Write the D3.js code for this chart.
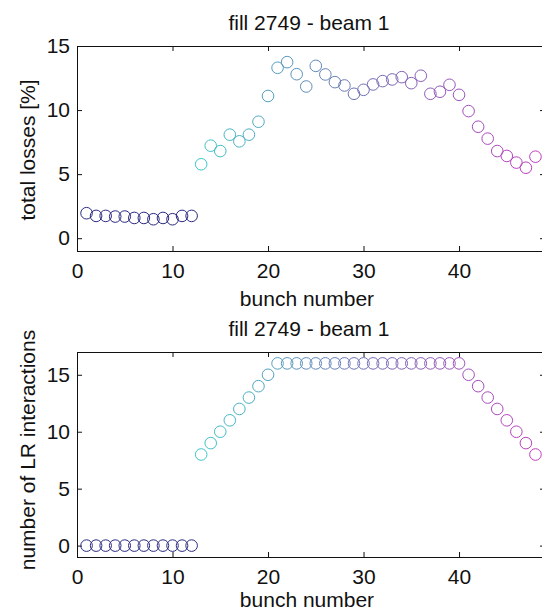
<!DOCTYPE html>
<html>
<head>
<meta charset="utf-8">
<script src="https://cdn.jsdelivr.net/npm/d3@7"></script>
<style>
	body { margin: 0; background: #fff; }
	svg { display: block; font-family: "Liberation Sans", Arial, sans-serif; }
	.axis text { font-size: 21px; fill: #111; }
	.axis path { display: none; }
	.axis line { stroke: #111; }
	.label { font-size: 21px; fill: #111; }
</style>
</head>
<body>
<div id="chart"></div>
<script>
//////////////////////////////
// DATA
//////////////////////////////

const bunch = [1,2,3,4,5,6,7,8,9,10,11,12,13,14,15,16,17,18,19,20,21,22,23,24,
	25,26,27,28,29,30,31,32,33,34,35,36,37,38,39,40,41,42,43,44,45,46,47,48]

const losses = [1.95,1.74,1.74,1.69,1.69,1.58,1.58,1.48,1.58,1.48,1.74,1.74,
	5.77,7.22,6.8,8.08,7.56,8.08,9.09,11.1,13.3,13.74,12.8,11.84,
	13.45,12.78,12.18,11.92,11.27,11.58,12.0,12.26,12.39,12.57,12.1,12.68,
	11.27,11.43,11.97,11.19,9.92,8.7,7.77,6.8,6.42,5.9,5.5,6.36]

const lrInteractions = [0,0,0,0,0,0,0,0,0,0,0,0,
	8,9,10,11,12,13,14,15,16,16,16,16,
	16,16,16,16,16,16,16,16,16,16,16,16,
	16,16,16,16,15,14,13,12,11,10,9,8]

const xTicks = [0,10,20,30,40]
const lossTicks = [0,5,10,15]
const lrTicks = [0,5,10,15]

//////////////////////////////
// CHART
//////////////////////////////

const width = 542
const height = 613

const svg = d3.select("#chart").append("svg").attr("width", width).attr("height", height)

svg.append("rect").attr("width", width).attr("height", height).attr("fill", "#fff")

let color = d3.scaleLinear()
	.domain([12, 13, 30, 48])
	.range(["#2a2a82", "#3ec6c8", "#7070b4", "#c03cc0"])
	.clamp(true)

const panel = (opts) => {
	let x = d3.scaleLinear().domain([0, 49]).range([77, 545])
	let y = d3.scaleLinear().domain(opts.yDomain).range([opts.bottom, opts.top])

	let g = svg.append("g")

	// ticks on all four sides, pointing inwards
	g.append("g").attr("class", "axis").attr("transform", "translate(0," + opts.bottom + ")")
		.call(d3.axisBottom(x).tickValues(xTicks).tickSize(-5).tickPadding(12))
	g.append("g").attr("class", "axis").attr("transform", "translate(0," + opts.top + ")")
		.call(d3.axisTop(x).tickValues(xTicks).tickSize(-5).tickFormat(""))
	g.append("g").attr("class", "axis").attr("transform", "translate(77,0)")
		.call(d3.axisLeft(y).tickValues(opts.yTicks).tickSize(-5).tickPadding(7))
	g.append("g").attr("class", "axis").attr("transform", "translate(545,0)")
		.call(d3.axisRight(y).tickValues(opts.yTicks).tickSize(-5).tickFormat(""))

	g.append("rect")
		.attr("x", 77).attr("y", opts.top)
		.attr("width", 545 - 77).attr("height", opts.bottom - opts.top)
		.attr("fill", "none").attr("stroke", "#111").attr("shape-rendering", "crispEdges")

	g.selectAll("circle.pt").data(opts.values).enter().append("circle")
		.attr("class", "pt")
		.attr("cx", (d, i) => x(bunch[i]))
		.attr("cy", (d) => y(d))
		.attr("r", 5.8)
		.attr("fill", "none")
		.attr("stroke-width", 1)
		.attr("stroke", (d, i) => color(bunch[i]))

	g.append("text").attr("class", "label")
		.attr("x", 309).attr("y", opts.top - 16)
		.attr("text-anchor", "middle")
		.text("fill 2749 - beam 1")

	g.append("text").attr("class", "label")
		.attr("x", 307).attr("y", opts.xLabelY)
		.attr("text-anchor", "middle")
		.text("bunch number")

	g.append("text").attr("class", "label")
		.attr("transform", "translate(35," + opts.yLabelMid + ") rotate(-90)")
		.attr("text-anchor", "middle")
		.text(opts.yLabel)
}

panel({ top: 46, bottom: 251, yDomain: [-1, 15], yTicks: lossTicks, values: losses,
	yLabel: "total losses [%]", xLabelY: 306, yLabelMid: 150 })
panel({ top: 352, bottom: 557, yDomain: [-1, 17], yTicks: lrTicks, values: lrInteractions,
	yLabel: "number of LR interactions", xLabelY: 607, yLabelMid: 450 })
</script>
</body>
</html>
